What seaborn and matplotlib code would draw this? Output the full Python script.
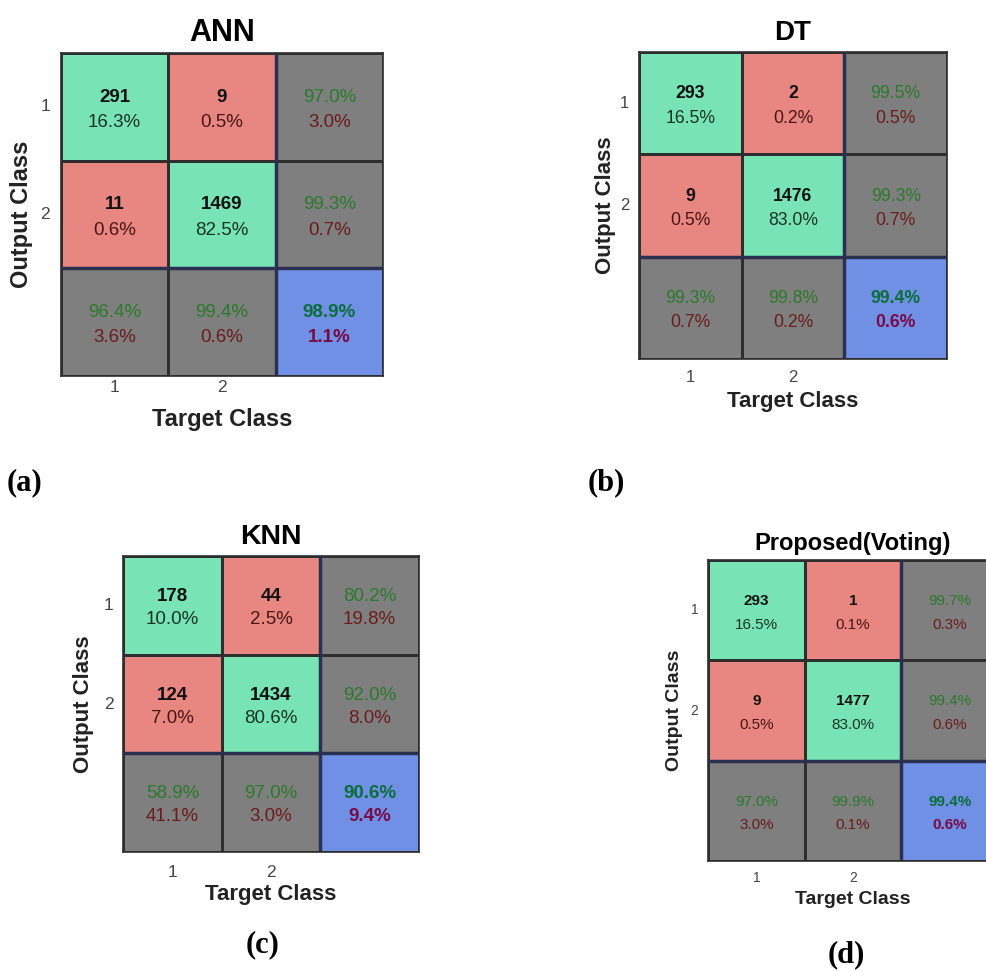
import numpy as np
import pandas as pd
import seaborn as sns
import matplotlib
matplotlib.use('Agg')
import matplotlib.pyplot as plt
from matplotlib.colors import ListedColormap

models = ['ANN', 'DT', 'KNN', 'Proposed(Voting)']
tags = ['(a)', '(b)', '(c)', '(d)']
class_labels = ['1', '2', '']

ann_counts = [[291, 9], [11, 1469]]
ann_pct = [[16.3, 0.5], [0.6, 82.5]]
ann_row_ok = [97.0, 99.3]
ann_row_err = [3.0, 0.7]
ann_col_ok = [96.4, 99.4]
ann_col_err = [3.6, 0.6]
ann_total = [98.9, 1.1]

dt_counts = [[293, 2], [9, 1476]]
dt_pct = [[16.5, 0.2], [0.5, 83.0]]
dt_row_ok = [99.5, 99.3]
dt_row_err = [0.5, 0.7]
dt_col_ok = [99.3, 99.8]
dt_col_err = [0.7, 0.2]
dt_total = [99.4, 0.6]

knn_counts = [[178, 44], [124, 1434]]
knn_pct = [[10.0, 2.5], [7.0, 80.6]]
knn_row_ok = [80.2, 92.0]
knn_row_err = [19.8, 8.0]
knn_col_ok = [58.9, 97.0]
knn_col_err = [41.1, 3.0]
knn_total = [90.6, 9.4]

vote_counts = [[293, 1], [9, 1477]]
vote_pct = [[16.5, 0.1], [0.5, 83.0]]
vote_row_ok = [99.7, 99.4]
vote_row_err = [0.3, 0.6]
vote_col_ok = [97.0, 99.9]
vote_col_err = [3.0, 0.1]
vote_total = [99.4, 0.6]

all_data = [
    (ann_counts, ann_pct, ann_row_ok, ann_row_err, ann_col_ok, ann_col_err, ann_total),
    (dt_counts, dt_pct, dt_row_ok, dt_row_err, dt_col_ok, dt_col_err, dt_total),
    (knn_counts, knn_pct, knn_row_ok, knn_row_err, knn_col_ok, knn_col_err, knn_total),
    (vote_counts, vote_pct, vote_row_ok, vote_row_err, vote_col_ok, vote_col_err, vote_total),
]

# layout (pixels): grid box left, top, width, height + font sizes / pads
W, H = 987, 971
layout = [
    dict(box=(61, 53, 322, 323), title=22, lab=17, tick=12.5, cell=13.5,
         tpad=8.5, xpad=3, xlpad=9, ypad=8, ylpad=5, tag=(25, 483)),
    dict(box=(639, 52, 308, 307), title=20, lab=16, tick=12, cell=12.7,
         tpad=8.5, xpad=8, xlpad=4, ypad=7, ylpad=3, tag=(606, 483)),
    dict(box=(123, 556, 296, 296), title=20.5, lab=16, tick=12.5, cell=13.5,
         tpad=9, xpad=9, xlpad=3.5, ypad=7, ylpad=6.5, tag=(263, 945)),
    dict(box=(708, 560, 290, 301), title=17, lab=14, tick=10, cell=11,
         tpad=7, xpad=7, xlpad=4.5, ypad=7, ylpad=5, tag=(846, 955)),
]

green = '#78E4B6'
red = '#E88682'
gray = '#7F7F7F'
blue = '#7090E6'
cmap = ListedColormap([green, red, gray, blue])
cell_kind = pd.DataFrame([[0, 1, 2], [1, 0, 2], [2, 2, 3]])

plt.rcParams['font.family'] = ['Liberation Sans', 'DejaVu Sans']
fig = plt.figure(figsize=(W / 100, H / 100), dpi=100)
fig.patch.set_facecolor('white')

for k in range(4):
    counts, pct, row_ok, row_err, col_ok, col_err, total = all_data[k]
    lo = layout[k]
    l, t, w, h = lo['box']
    ax = fig.add_axes([l / W, 1 - (t + h) / H, w / W, h / H])
    sns.heatmap(cell_kind, cmap=cmap, vmin=-0.5, vmax=3.5, cbar=False,
                linewidths=1, linecolor='#2e2e2e', square=False,
                xticklabels=class_labels, yticklabels=class_labels, ax=ax)
    ax.axhline(2, color='#2a3050', lw=2.5)
    ax.axvline(2, color='#2a3050', lw=2.5)
    for s in ax.spines.values():
        s.set_visible(True)
        s.set_color('#2e2e2e')
        s.set_linewidth(1.2)

    fs = lo['cell']
    for i in range(2):
        for j in range(2):
            diag = i == j
            ax.text(j + 0.5, i + 0.41, str(counts[i][j]), ha='center', va='center',
                    fontsize=fs, fontweight='bold', color='#111111')
            ax.text(j + 0.5, i + 0.645, f'{pct[i][j]:.1f}%', ha='center', va='center',
                    fontsize=fs, color='#1a3326' if diag else '#4a1515')
        # row summary
        ax.text(2.5, i + 0.41, f'{row_ok[i]:.1f}%', ha='center', va='center',
                fontsize=fs, color='#2a7a2a')
        ax.text(2.5, i + 0.645, f'{row_err[i]:.1f}%', ha='center', va='center',
                fontsize=fs, color='#6a1c1c')
        # column summary
        ax.text(i + 0.5, 2.41, f'{col_ok[i]:.1f}%', ha='center', va='center',
                fontsize=fs, color='#2a7a2a')
        ax.text(i + 0.5, 2.645, f'{col_err[i]:.1f}%', ha='center', va='center',
                fontsize=fs, color='#6a1c1c')
    ax.text(2.5, 2.41, f'{total[0]:.1f}%', ha='center', va='center',
            fontsize=fs, fontweight='bold', color='#0b6e3a')
    ax.text(2.5, 2.645, f'{total[1]:.1f}%', ha='center', va='center',
            fontsize=fs, fontweight='bold', color='#7a0a45')

    ax.set_title(models[k], fontsize=lo['title'], fontweight='bold', pad=lo['tpad'])
    ax.set_xlabel('Target Class', fontsize=lo['lab'], fontweight='bold',
                  color='#222222', labelpad=lo['xlpad'])
    ax.set_ylabel('Output Class', fontsize=lo['lab'], fontweight='bold',
                  color='#222222', labelpad=lo['ylpad'])
    ax.tick_params(axis='x', length=0, pad=lo['xpad'], labelsize=lo['tick'], labelcolor='#444444')
    ax.tick_params(axis='y', length=0, pad=lo['ypad'], labelsize=lo['tick'], labelcolor='#444444')
    plt.setp(ax.get_yticklabels(), rotation=0)

    tx, ty = lo['tag']
    fig.text(tx / W, 1 - ty / H, tags[k], ha='center', va='center', fontsize=22,
             fontweight='bold', family=['Liberation Serif', 'DejaVu Serif'])

fig.savefig('out.png', dpi=100, facecolor='white')
